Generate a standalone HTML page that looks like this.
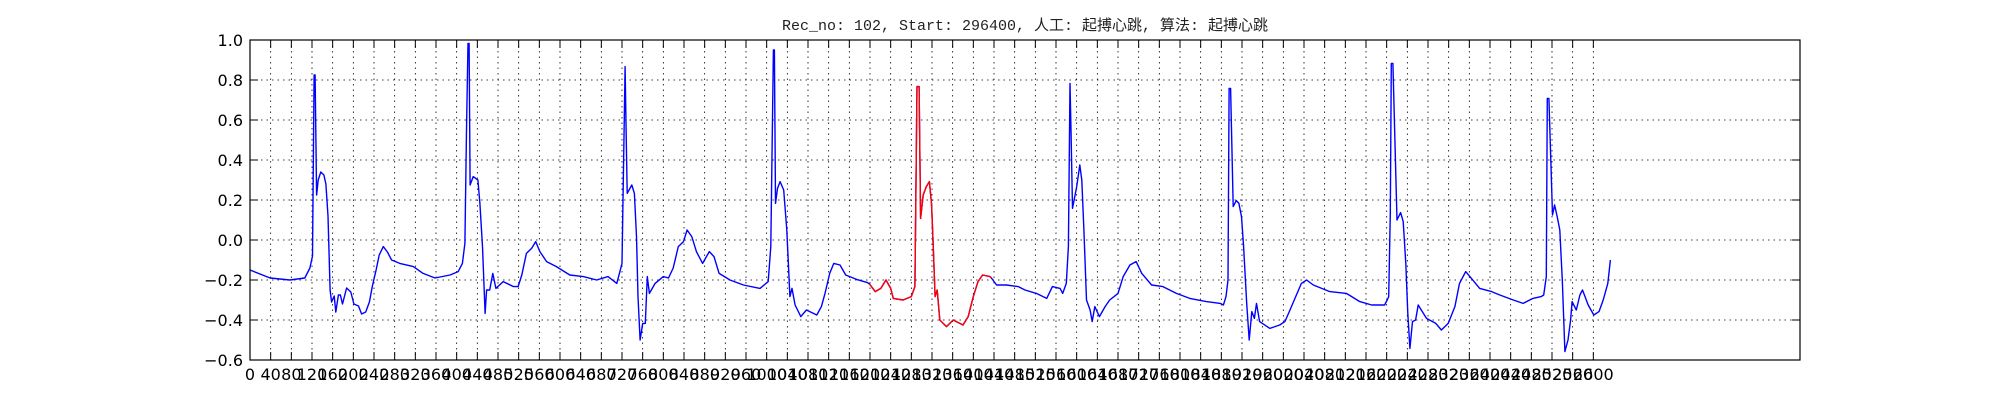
<!DOCTYPE html>
<html><head><meta charset="utf-8"><style>
html,body{margin:0;padding:0;background:#fff;}
svg{display:block;}
</style></head><body>
<svg id="chart" width="2000" height="400" xmlns="http://www.w3.org/2000/svg">
<rect x="0" y="0" width="2000" height="400" fill="#fff"/>
<text x="1025" y="30" text-anchor="middle" font-family="'Liberation Mono','Noto Sans CJK SC',monospace" font-size="15" fill="#222">Rec_no: 102, Start: 296400, 人工: 起搏心跳, 算法: 起搏心跳</text>
<g id="grid"></g>
<g id="series"></g>
<g id="axes"></g>
</svg>
<script>
const samples = [0,39,77,106,116,121,124,126,129,132,137,143,147,151,155,158,163,166,171,175,179,187,195,201,210,216,224,231,237,244,250,258,266,274,290,316,335,358,387,403,411,416,419,422,424,426,432,441,445,450,455,458,464,470,476,490,510,519,526,535,545,553,561,574,593,619,645,671,693,710,716,720,724,726,728,730,739,744,748,751,755,760,765,769,773,784,800,810,819,829,839,846,855,864,876,889,898,908,929,955,987,1003,1008,1013,1015,1017,1021,1026,1033,1039,1045,1049,1055,1066,1077,1097,1106,1113,1122,1130,1142,1153,1174,1195,1199,1210,1221,1231,1240,1245,1264,1280,1287,1291,1295,1298,1303,1309,1315,1319,1322,1326,1330,1335,1348,1361,1380,1390,1400,1409,1418,1432,1435,1445,1464,1487,1500,1522,1542,1553,1568,1573,1580,1584,1587,1589,1592,1600,1606,1610,1614,1619,1626,1630,1635,1644,1655,1664,1680,1690,1703,1715,1726,1745,1767,1793,1819,1851,1878,1884,1889,1893,1895,1898,1903,1909,1914,1919,1923,1929,1934,1939,1944,1948,1954,1974,1993,2003,2013,2024,2035,2045,2058,2090,2122,2148,2171,2196,2201,2204,2207,2209,2212,2220,2227,2232,2237,2241,2245,2250,2256,2261,2277,2295,2306,2319,2332,2341,2353,2361,2380,2403,2419,2445,2464,2483,2499,2504,2509,2511,2514,2521,2525,2530,2535,2540,2545,2551,2556,2559,2567,2574,2579,2590,2601,2611,2619,2628,2633];
const values = [-0.15,-0.19,-0.20,-0.19,-0.14,-0.08,0.825,0.825,0.225,0.30,0.34,0.325,0.28,0.12,-0.25,-0.31,-0.28,-0.36,-0.275,-0.275,-0.32,-0.24,-0.26,-0.32,-0.33,-0.37,-0.36,-0.31,-0.23,-0.15,-0.075,-0.033,-0.06,-0.10,-0.117,-0.133,-0.167,-0.19,-0.175,-0.158,-0.117,-0.017,0.55,0.983,0.983,0.275,0.317,0.30,0.183,-0.033,-0.367,-0.25,-0.25,-0.167,-0.242,-0.208,-0.233,-0.233,-0.175,-0.067,-0.042,-0.008,-0.058,-0.108,-0.133,-0.175,-0.183,-0.20,-0.183,-0.217,-0.158,-0.117,0.55,0.867,0.55,0.233,0.275,0.233,0.017,-0.283,-0.50,-0.417,-0.417,-0.183,-0.267,-0.217,-0.183,-0.19,-0.14,-0.033,-0.008,0.05,0.017,-0.058,-0.117,-0.058,-0.083,-0.167,-0.20,-0.225,-0.242,-0.208,-0.033,0.95,0.95,0.183,0.258,0.292,0.25,0.05,-0.283,-0.242,-0.325,-0.383,-0.35,-0.375,-0.333,-0.267,-0.167,-0.117,-0.125,-0.175,-0.197,-0.213,-0.22,-0.258,-0.242,-0.20,-0.242,-0.292,-0.30,-0.283,-0.233,0.767,0.767,0.108,0.225,0.267,0.292,0.183,0.0,-0.283,-0.25,-0.40,-0.433,-0.40,-0.425,-0.383,-0.283,-0.208,-0.175,-0.183,-0.19,-0.225,-0.225,-0.233,-0.25,-0.267,-0.292,-0.233,-0.242,-0.267,-0.217,-0.033,0.783,0.55,0.158,0.267,0.375,0.30,0.05,-0.30,-0.35,-0.408,-0.333,-0.383,-0.333,-0.30,-0.267,-0.183,-0.125,-0.108,-0.167,-0.225,-0.233,-0.267,-0.292,-0.308,-0.317,-0.325,-0.283,-0.20,0.758,0.758,0.167,0.197,0.183,0.117,-0.033,-0.317,-0.50,-0.358,-0.392,-0.317,-0.408,-0.442,-0.425,-0.408,-0.35,-0.283,-0.217,-0.20,-0.225,-0.258,-0.267,-0.308,-0.325,-0.325,-0.30,-0.283,0.133,0.883,0.883,0.10,0.137,0.092,-0.117,-0.367,-0.542,-0.408,-0.40,-0.325,-0.392,-0.417,-0.45,-0.417,-0.333,-0.217,-0.158,-0.183,-0.242,-0.258,-0.275,-0.30,-0.317,-0.292,-0.283,-0.275,-0.183,0.708,0.708,0.125,0.175,0.117,0.05,-0.20,-0.558,-0.50,-0.40,-0.308,-0.35,-0.275,-0.25,-0.325,-0.375,-0.358,-0.30,-0.217,-0.10,-0.092];
const redRange = [1199, 1435];
const yTicks = [1.0,0.8,0.6,0.4,0.2,0.0,-0.2,-0.4,-0.6];
const yTickLabels = ["1.0","0.8","0.6","0.4","0.2","0.0","\u22120.2","\u22120.4","\u22120.6"];
const xTickStep = 40, xTickMax = 2600;

const X0=250, X1=1800, Y0=40, Y1=360, XMIN=0, XMAX=3000, YMIN=-0.6, YMAX=1.0;
const NS='http://www.w3.org/2000/svg';
function xs(v){return X0+(v-XMIN)/(XMAX-XMIN)*(X1-X0);}
function ys(v){return Y1-(v-YMIN)/(YMAX-YMIN)*(Y1-Y0);}
function mk(tag,attrs,parent){const e=document.createElementNS(NS,tag);for(const k in attrs)e.setAttribute(k,attrs[k]);parent.appendChild(e);return e;}
const grid=document.getElementById('grid'), axes=document.getElementById('axes'), series=document.getElementById('series');

for(let v=0; v<=xTickMax; v+=xTickStep){
  const x=xs(v);
  const g=mk('line',{x1:x,x2:x,y1:Y0,y2:Y1,stroke:'#000','stroke-width':0.8,'stroke-dasharray':'1.5,4'},grid);
  
  
  const t1=mk('line',{x1:x,x2:x,y1:Y1,y2:Y1-8,stroke:'#000','stroke-width':1},axes);
  
  
  const t2=mk('line',{x1:x,x2:x,y1:Y0,y2:Y0+8,stroke:'#000','stroke-width':1},axes);
  
  
  const lb=mk('text',{x:x,y:380,'text-anchor':'middle','font-family':"'DejaVu Sans','Liberation Sans',sans-serif",'font-size':16,fill:'#000'},axes);
  lb.textContent=String(v);
  
  
}
yTicks.forEach((v,i)=>{
  const y=ys(v);
  const g=mk('line',{x1:X0,x2:X1,y1:y,y2:y,stroke:'#000','stroke-width':0.8,'stroke-dasharray':'1.5,4'},grid);
  
  
  const t1=mk('line',{x1:X0,x2:X0+8,y1:y,y2:y,stroke:'#000','stroke-width':1},axes);
  
  
  const t2=mk('line',{x1:X1,x2:X1-8,y1:y,y2:y,stroke:'#000','stroke-width':1},axes);
  
  
  const lb=mk('text',{x:X0-7,y:y+6,'text-anchor':'end','font-family':"'DejaVu Sans','Liberation Sans',sans-serif",'font-size':16,fill:'#000'},axes);
  lb.textContent=yTickLabels[i];
  
  
});
const frame=mk('rect',{x:X0,y:Y0,width:X1-X0,height:Y1-Y0,fill:'none',stroke:'#000','stroke-width':1.2},axes);



const bluePts=samples.map((s,i)=>xs(s).toFixed(1)+','+ys(values[i]).toFixed(1)).join(' ');
const blue=mk('polyline',{points:bluePts,fill:'none',stroke:'#0000ff','stroke-width':1.4,'stroke-linejoin':'round'},series);


const redPts=[];
samples.forEach((s,i)=>{ if(s>=redRange[0]&&s<=redRange[1]) redPts.push(xs(s).toFixed(1)+','+ys(values[i]).toFixed(1)); });
const red=mk('polyline',{points:redPts.join(' '),fill:'none',stroke:'#ff0000','stroke-width':1.4,'stroke-linejoin':'round'},series);


</script>
</body></html>
